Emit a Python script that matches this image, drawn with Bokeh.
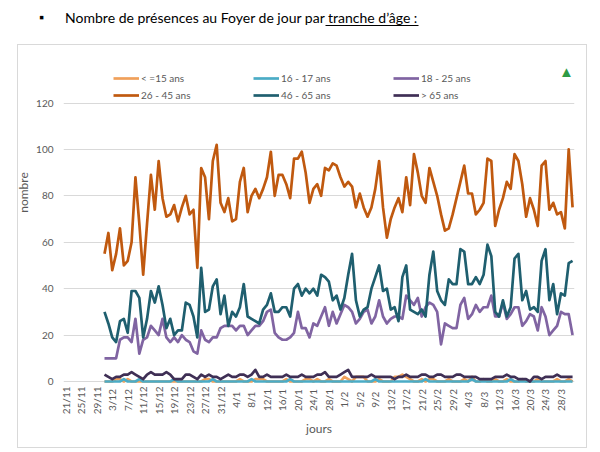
import pandas as pd
from bokeh.plotting import figure
from bokeh.models import (Range1d, FixedTicker, Legend, LegendItem, Label,
                          BoxAnnotation, InlineStyleSheet)
from bokeh.embed import file_html
from bokeh.resources import INLINE

# ---------------- data ----------------
start_date = "2019-12-01"
n_days = 122
dates = pd.date_range(start_date, periods=n_days, freq="D")
x_days = list(range(n_days))

tick_dates = pd.date_range("2019-11-21", "2020-03-28", freq="4D")
tick_labels = [f"{d.day}/{d.month}" for d in tick_dates]
tick_pos = [int((d - dates[0]).days) for d in tick_dates]

series_names = ["< =15 ans", "16 - 17 ans", "18 - 25 ans", "26 - 45 ans", "46 - 65 ans", "> 65 ans"]

a_le15 = [
    0, 0, 0, 1, 1, 0, 1, 0, 0, 0,
    0, 0, 0, 0, 0, 0, 0, 0, 0, 0,
    0, 0, 0, 0, 0, 0, 1, 1, 0, 0,
    0, 0, 0, 0, 0, 1, 0, 0, 0, 1,
    1, 1, 0, 0, 0, 0, 0, 1, 0, 0,
    0, 0, 1, 1, 0, 1, 0, 0, 1, 0,
    0, 0, 2, 1, 0, 2, 2, 2, 0, 0,
    0, 1, 0, 0, 0, 2, 2, 3, 2, 1,
    0, 0, 1, 0, 1, 1, 0, 0, 0, 1,
    0, 0, 0, 1, 0, 2, 0, 0, 1, 0,
    0, 1, 0, 0, 1, 0, 0, 0, 1, 0,
    0, 0, 1, 0, 0, 0, 0, 1, 0, 0,
    1, 0]

a_1617 = [
    0, 0, 0, 0, 0, 1, 0, 0, 0, 1,
    0, 0, 0, 0, 0, 0, 0, 0, 1, 0,
    0, 0, 0, 0, 0, 0, 0, 0, 1, 0,
    0, 0, 0, 0, 0, 0, 0, 0, 1, 0,
    0, 0, 0, 0, 0, 0, 0, 0, 1, 0,
    0, 0, 0, 0, 0, 0, 0, 0, 0, 0,
    0, 0, 0, 0, 0, 0, 0, 0, 0, 0,
    1, 0, 0, 0, 0, 0, 0, 0, 0, 0,
    0, 0, 0, 1, 0, 0, 0, 0, 0, 0,
    0, 0, 0, 0, 0, 1, 0, 0, 0, 0,
    0, 0, 0, 0, 0, 1, 0, 0, 0, 0,
    0, 0, 0, 0, 0, 0, 0, 0, 0, 0,
    0, 0]

a_1825 = [
    10, 10, 10, 10, 18, 19, 19, 17, 27, 12,
    18, 19, 24, 22, 20, 27, 19, 17, 19, 17,
    20, 18, 17, 13, 12, 22, 18, 17, 19, 19,
    23, 24, 24, 24, 22, 24, 24, 20, 22, 24,
    24, 26, 30, 31, 21, 19, 18, 18, 19, 21,
    30, 23, 23, 19, 25, 24, 28, 32, 24, 30,
    25, 29, 33, 32, 30, 25, 27, 30, 31, 25,
    28, 35, 28, 25, 27, 28, 28, 27, 37, 35,
    33, 36, 28, 32, 34, 33, 30, 16, 25, 24,
    23, 23, 33, 36, 27, 29, 33, 30, 32, 32,
    37, 28, 28, 34, 27, 29, 32, 32, 24, 26,
    29, 28, 22, 32, 28, 20, 22, 24, 30, 29,
    29, 20]

a_2645 = [
    55, 64, 48, 55, 66, 50, 52, 60, 88, 68,
    46, 68, 89, 74, 95, 79, 71, 72, 76, 69,
    75, 80, 72, 74, 49, 92, 88, 70, 95, 102,
    77, 73, 79, 69, 70, 86, 92, 73, 80, 83,
    79, 83, 88, 99, 80, 89, 89, 85, 79, 96,
    96, 99, 90, 77, 83, 85, 80, 92, 91, 94,
    93, 88, 84, 86, 84, 75, 81, 75, 71, 75,
    83, 95, 75, 62, 70, 75, 79, 73, 88, 76,
    98, 90, 80, 77, 92, 86, 80, 72, 65, 66,
    72, 79, 86, 93, 81, 81, 72, 74, 77, 96,
    95, 67, 74, 79, 86, 83, 98, 95, 85, 71,
    79, 74, 67, 93, 95, 74, 77, 72, 73, 66,
    100, 75]

a_4665 = [
    30, 25, 19, 17, 26, 27, 21, 39, 39, 36,
    19, 27, 39, 34, 41, 33, 23, 27, 20, 22,
    22, 34, 33, 28, 19, 49, 30, 31, 41, 44,
    29, 37, 24, 30, 28, 32, 42, 28, 27, 26,
    25, 31, 33, 38, 30, 30, 32, 32, 28, 40,
    42, 37, 40, 38, 40, 37, 46, 45, 43, 35,
    37, 31, 36, 46, 55, 35, 28, 31, 32, 40,
    45, 50, 39, 40, 31, 32, 26, 45, 50, 31,
    30, 29, 31, 28, 46, 56, 39, 35, 33, 44,
    42, 42, 57, 56, 42, 42, 45, 42, 46, 59,
    54, 30, 28, 35, 28, 32, 53, 55, 35, 39,
    31, 32, 30, 52, 57, 35, 42, 29, 38, 37,
    51, 52]

a_65 = [
    3, 2, 1, 2, 2, 3, 3, 4, 3, 2,
    1, 3, 4, 3, 3, 3, 4, 3, 1, 1,
    1, 3, 3, 2, 1, 3, 2, 3, 2, 2,
    1, 2, 3, 2, 2, 3, 3, 2, 3, 5,
    2, 2, 3, 2, 2, 2, 2, 3, 2, 2,
    2, 3, 2, 2, 2, 3, 3, 4, 2, 2,
    2, 3, 4, 5, 2, 2, 2, 2, 2, 3,
    2, 2, 2, 2, 2, 1, 2, 2, 3, 2,
    2, 2, 3, 3, 2, 2, 3, 3, 2, 2,
    2, 3, 3, 2, 2, 2, 2, 1, 1, 1,
    1, 2, 2, 2, 3, 2, 2, 1, 1, 1,
    0, 2, 2, 1, 2, 2, 2, 3, 2, 2,
    2, 2]

series_values = [a_le15, a_1617, a_1825, a_2645, a_4665, a_65]
series_colors = ["#F0A05A", "#4BACC6", "#8064A2", "#C0590F", "#1F5F6F", "#3F2F55"]

y_ticks = [0, 20, 40, 60, 80, 100, 120]

title_text = "Nombre de présences au Foyer de jour par tranche d\u2019âge :"

FONT = "Lato"
GREY = "#595959"

# ---------------- layout (pixels) ----------------
W, H = 600, 450
FL, FW = 63, 511          # frame left / width
FH = 384                  # frame spans from canvas top to y=384
X0, X1 = -10.6, 121.5
PX_PER_UNIT = (381 - 102.5) / 120.0
Y_END = 120 + 102.5 / PX_PER_UNIT
Y_START = -(FH - 381) / PX_PER_UNIT


def px2x(px):
    return X0 + (px - FL) * (X1 - X0) / FW


def px2y(py):
    return Y_END - py / PX_PER_UNIT


p = figure(frame_width=FW, frame_height=FH,
           min_border_left=FL, min_border_right=W - FL - FW,
           min_border_top=0, min_border_bottom=H - FH,
           x_range=Range1d(X0, X1), y_range=Range1d(Y_START, Y_END),
           output_backend="svg", toolbar_location=None,
           background_fill_color="white", border_fill_color="white")
p.outline_line_color = None

renderers = []
for name, vals, col in zip(series_names, series_values, series_colors):
    r = p.line(x_days, vals, line_color=col, line_width=2.7, line_join="round")
    renderers.append(r)

# axes
p.xaxis.ticker = FixedTicker(ticks=tick_pos)
pad = {5: "", 4: " ", 3: "  "}
p.xaxis.major_label_overrides = {t: lab + pad.get(len(lab), "") for t, lab in zip(tick_pos, tick_labels)}
p.xaxis.major_label_orientation = 1.5707963
p.xaxis.axis_line_color = None
p.xaxis.major_tick_line_color = None
p.xaxis.minor_tick_line_color = None
p.xaxis.major_tick_out = 0
p.xaxis.major_label_standoff = 2
p.xaxis.axis_label = "jours"
p.xaxis.axis_label_standoff = 4

p.yaxis.ticker = FixedTicker(ticks=y_ticks)
p.yaxis.axis_line_color = None
p.yaxis.major_tick_line_color = None
p.yaxis.minor_tick_line_color = None
p.yaxis.major_tick_out = 0
p.yaxis.major_label_standoff = 10
p.yaxis.axis_label = "nombre"
p.yaxis.axis_label_standoff = 2

for ax in (p.xaxis, p.yaxis):
    ax.major_label_text_font = FONT
    ax.major_label_text_font_size = "10px"
    ax.major_label_text_color = GREY
    ax.axis_label_text_font = FONT
    ax.axis_label_text_font_size = "12px"
    ax.axis_label_text_font_style = "normal"
    ax.axis_label_text_color = GREY

p.xgrid.grid_line_color = None
p.ygrid.grid_line_color = "#D9D9D9"
p.ygrid.grid_line_width = 1
p.ygrid.ticker = FixedTicker(ticks=y_ticks)


# legend: two rows of three
def make_legend(items, y):
    return Legend(items=items, orientation="horizontal", location=(50, y),
                  glyph_width=26, glyph_height=16, label_height=16, label_width=112,
                  label_standoff=2, spacing=0, padding=0, margin=0,
                  border_line_color=None, background_fill_alpha=0,
                  label_text_font=FONT, label_text_font_size="10px",
                  label_text_color=GREY)


items = [LegendItem(label=n, renderers=[r]) for n, r in zip(series_names, renderers)]
p.add_layout(make_legend([items[0], items[1], items[2]], 298))
p.add_layout(make_legend([items[3], items[4], items[5]], 281))

# title with underlined end part
p.add_layout(Label(x=px2x(64.6), y=px2y(17), text=title_text, text_font=FONT,
                   text_font_size="14px", text_color="black", text_baseline="middle"))
p.add_layout(BoxAnnotation(left=px2x(325), right=px2x(418), top=px2y(24.4), bottom=px2y(25.5),
                           fill_color="black", fill_alpha=1, line_color=None))

# small green logo mark at top right
p.add_layout(Label(x=px2x(566), y=px2y(70), text="\u25b2", text_font=FONT,
                   text_font_size="15px", text_color="#2E9B45",
                   text_align="center", text_baseline="middle"))

# outer chart border and title bullet (decorations drawn with CSS)
p.stylesheets = [InlineStyleSheet(css=(
    ":host::after { content: ''; position: absolute; left: 17px; top: 44px; "
    "width: 570px; height: 404px; border: 1px solid #D9D9D9; "
    "box-sizing: border-box; pointer-events: none; }"
    ":host::before { content: '\\25AA'; position: absolute; left: 39px; top: 7px; "
    "font-family: Lato; font-size: 13px; line-height: 20px; color: black; "
    "pointer-events: none; z-index: 5; }"))]

open("out.html", "w").write(file_html(p, INLINE))
